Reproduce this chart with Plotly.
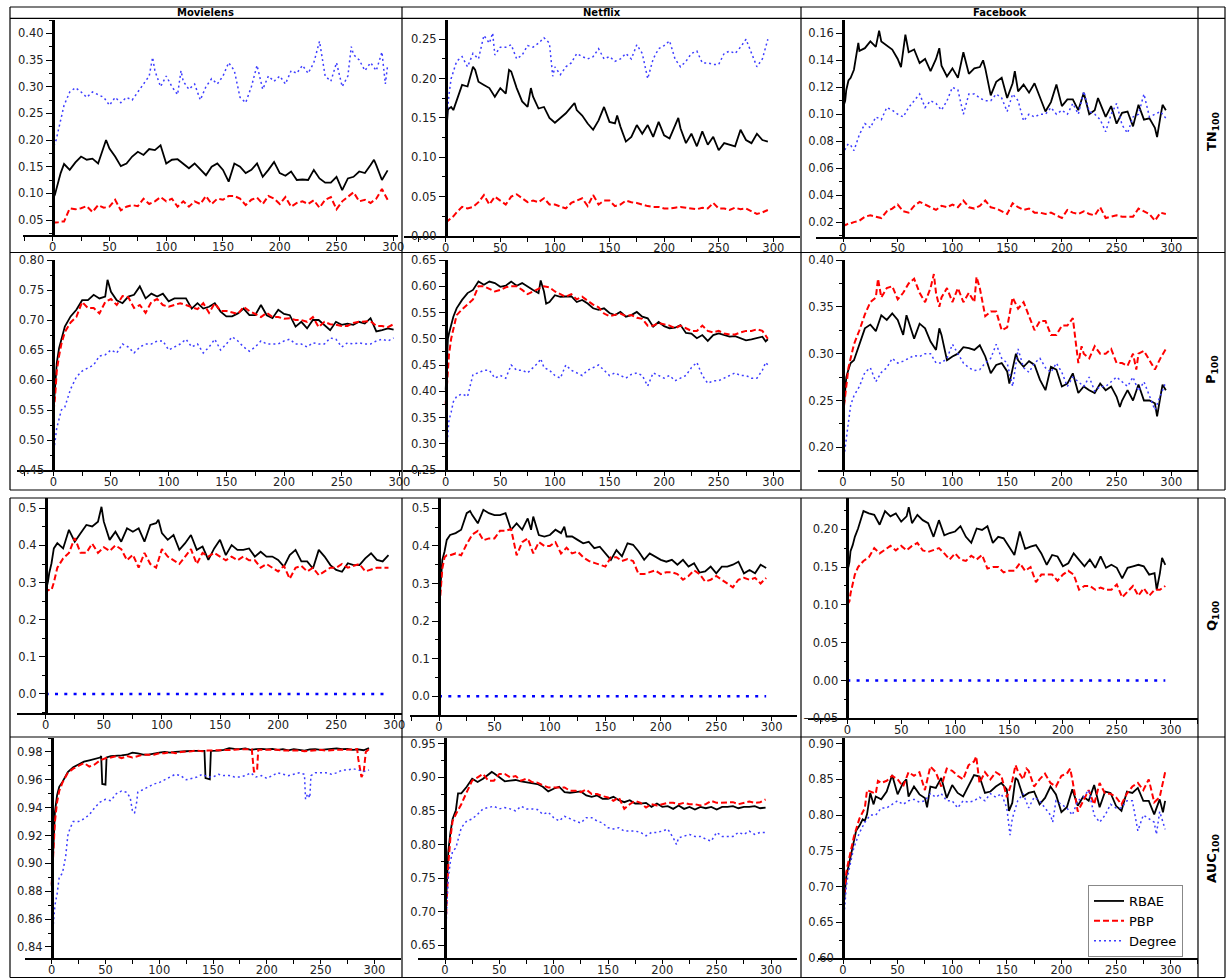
import plotly.graph_objects as go

W, H = 1232, 978

DATASETS = ["Movielens", "Netflix", "Facebook"]
METRICS = ["TN", "P", "Q", "AUC"]
METHODS = ["RBAE", "PBP", "Degree"]

X = [0, 1, 2, 3, 5, 7, 10, 15,
     20, 25, 30, 35, 40, 45, 50, 55, 60, 65,
     70, 75, 80, 85, 90, 95, 100, 105, 110, 115,
     120, 125, 130, 135, 140, 145, 150, 155, 160, 165,
     170, 175, 180, 185, 190, 195, 200, 205, 210, 215,
     220, 225, 230, 235, 240, 245, 250, 255, 260, 265,
     270, 275, 280, 285, 290, 295]

# ---------------- TN100 ----------------
ML_TN_RBAE = [0.088, 0.092, 0.098, 0.106, 0.122, 0.138, 0.155, 0.144,
              0.158, 0.169, 0.163, 0.165, 0.156, 0.188, 0.184, 0.169, 0.151, 0.156,
              0.169, 0.178, 0.172, 0.183, 0.181, 0.190, 0.156, 0.163, 0.164, 0.156,
              0.147, 0.156, 0.144, 0.134, 0.150, 0.156, 0.144, 0.122, 0.156, 0.150,
              0.138, 0.144, 0.156, 0.131, 0.144, 0.159, 0.138, 0.133, 0.141, 0.125,
              0.126, 0.125, 0.144, 0.128, 0.120, 0.120, 0.131, 0.106, 0.128, 0.131,
              0.141, 0.138, 0.153, 0.153, 0.125, 0.143]
ML_TN_RBAE_PX = [47, 283]
ML_TN_RBAE_PY = [0.200, 0.163]
ML_TN_PBP = [0.045, 0.045, 0.045, 0.045, 0.046, 0.047, 0.047, 0.072,
             0.070, 0.072, 0.076, 0.065, 0.078, 0.073, 0.075, 0.088, 0.068, 0.075,
             0.078, 0.076, 0.090, 0.080, 0.085, 0.093, 0.085, 0.090, 0.075, 0.085,
             0.075, 0.085, 0.080, 0.095, 0.080, 0.090, 0.088, 0.095, 0.095, 0.090,
             0.078, 0.088, 0.092, 0.080, 0.095, 0.090, 0.080, 0.093, 0.075, 0.082,
             0.085, 0.080, 0.087, 0.073, 0.088, 0.093, 0.070, 0.085, 0.093, 0.102,
             0.085, 0.088, 0.082, 0.090, 0.108, 0.088]
ML_TN_DEG = [0.180, 0.190, 0.195, 0.200, 0.220, 0.240, 0.265, 0.290,
             0.298, 0.290, 0.280, 0.290, 0.285, 0.280, 0.265, 0.280, 0.270, 0.280,
             0.275, 0.290, 0.305, 0.320, 0.330, 0.300, 0.320, 0.300, 0.285, 0.310,
             0.295, 0.305, 0.275, 0.300, 0.315, 0.305, 0.320, 0.345, 0.330, 0.280,
             0.270, 0.300, 0.340, 0.295, 0.320, 0.310, 0.320, 0.305, 0.330, 0.325,
             0.340, 0.325, 0.345, 0.385, 0.320, 0.310, 0.345, 0.300, 0.320, 0.360,
             0.350, 0.330, 0.345, 0.330, 0.365, 0.340]
ML_TN_DEG_PX = [88, 113, 263, 293]
ML_TN_DEG_PY = [0.355, 0.330, 0.375, 0.305]

NF_TN_RBAE = [0.122, 0.143, 0.160, 0.162, 0.164, 0.160, 0.171, 0.192,
              0.190, 0.215, 0.196, 0.192, 0.188, 0.177, 0.188, 0.181, 0.209, 0.188,
              0.171, 0.164, 0.177, 0.162, 0.164, 0.150, 0.144, 0.150, 0.156, 0.164,
              0.160, 0.153, 0.143, 0.135, 0.147, 0.164, 0.145, 0.143, 0.139, 0.120,
              0.126, 0.141, 0.130, 0.141, 0.126, 0.145, 0.128, 0.124, 0.140, 0.137,
              0.118, 0.130, 0.114, 0.133, 0.116, 0.126, 0.109, 0.118, 0.116, 0.114,
              0.135, 0.122, 0.118, 0.130, 0.122, 0.120]
NF_TN_RBAE_PX = [27, 58, 78, 118, 157, 213]
NF_TN_RBAE_PY = [0.211, 0.211, 0.188, 0.169, 0.153, 0.150]
NF_TN_PBP = [0.017, 0.018, 0.019, 0.020, 0.022, 0.025, 0.030, 0.037,
             0.035, 0.037, 0.043, 0.052, 0.040, 0.050, 0.045, 0.040, 0.050, 0.053,
             0.048, 0.043, 0.045, 0.043, 0.048, 0.040, 0.040, 0.038, 0.035, 0.042,
             0.045, 0.048, 0.038, 0.052, 0.040, 0.045, 0.045, 0.038, 0.040, 0.045,
             0.043, 0.042, 0.040, 0.038, 0.037, 0.037, 0.035, 0.035, 0.036, 0.037,
             0.036, 0.035, 0.034, 0.036, 0.035, 0.042, 0.035, 0.035, 0.033, 0.036,
             0.034, 0.035, 0.032, 0.028, 0.030, 0.033]
NF_TN_DEG = [0.130, 0.150, 0.163, 0.180, 0.200, 0.210, 0.222, 0.228,
             0.215, 0.232, 0.225, 0.255, 0.245, 0.230, 0.240, 0.240, 0.243, 0.225,
             0.230, 0.242, 0.240, 0.245, 0.252, 0.245, 0.215, 0.205, 0.215, 0.220,
             0.232, 0.228, 0.225, 0.228, 0.238, 0.225, 0.228, 0.222, 0.225, 0.232,
             0.225, 0.243, 0.232, 0.200, 0.225, 0.238, 0.242, 0.248, 0.225, 0.215,
             0.222, 0.232, 0.235, 0.220, 0.220, 0.218, 0.218, 0.232, 0.235, 0.232,
             0.240, 0.250, 0.232, 0.215, 0.225, 0.250]
NF_TN_DEG_PX = [43, 98]
NF_TN_DEG_PY = [0.258, 0.203]

FB_TN_RBAE = [0.105, 0.108, 0.110, 0.118, 0.125, 0.127, 0.133, 0.147,
              0.149, 0.154, 0.150, 0.154, 0.151, 0.148, 0.141, 0.147, 0.146, 0.148,
              0.138, 0.141, 0.132, 0.141, 0.136, 0.128, 0.134, 0.127, 0.146, 0.130,
              0.134, 0.135, 0.134, 0.114, 0.124, 0.127, 0.112, 0.123, 0.117, 0.122,
              0.116, 0.123, 0.112, 0.102, 0.109, 0.122, 0.106, 0.111, 0.111, 0.103,
              0.116, 0.100, 0.103, 0.108, 0.098, 0.106, 0.093, 0.101, 0.102, 0.091,
              0.107, 0.096, 0.097, 0.090, 0.098, 0.103]
FB_TN_RBAE_PX = [14, 33, 53, 57, 88, 128, 157, 233, 287, 292]
FB_TN_RBAE_PY = [0.153, 0.162, 0.135, 0.159, 0.149, 0.140, 0.132, 0.112, 0.083, 0.107]
FB_TN_PBP = [0.017, 0.017, 0.018, 0.018, 0.019, 0.019, 0.020, 0.021,
             0.024, 0.025, 0.024, 0.023, 0.028, 0.030, 0.033, 0.028, 0.027, 0.032,
             0.035, 0.033, 0.031, 0.029, 0.032, 0.031, 0.033, 0.031, 0.036, 0.031,
             0.030, 0.032, 0.036, 0.031, 0.030, 0.028, 0.026, 0.034, 0.031, 0.029,
             0.030, 0.027, 0.027, 0.026, 0.027, 0.025, 0.023, 0.029, 0.027, 0.026,
             0.028, 0.026, 0.025, 0.031, 0.023, 0.024, 0.025, 0.024, 0.024, 0.024,
             0.030, 0.028, 0.026, 0.021, 0.027, 0.026]
FB_TN_DEG = [0.070, 0.072, 0.075, 0.076, 0.078, 0.077, 0.073, 0.085,
             0.093, 0.090, 0.098, 0.096, 0.105, 0.103, 0.100, 0.098, 0.105, 0.110,
             0.115, 0.105, 0.110, 0.108, 0.103, 0.110, 0.120, 0.118, 0.100, 0.115,
             0.115, 0.112, 0.110, 0.110, 0.115, 0.112, 0.102, 0.115, 0.110, 0.095,
             0.100, 0.098, 0.100, 0.100, 0.105, 0.100, 0.103, 0.100, 0.108, 0.100,
             0.117, 0.102, 0.100, 0.096, 0.087, 0.100, 0.108, 0.092, 0.086, 0.098,
             0.100, 0.115, 0.098, 0.100, 0.102, 0.097]

# ---------------- P100 ----------------
ML_P_RBAE = [0.545, 0.578, 0.606, 0.628, 0.653, 0.667, 0.689, 0.706,
             0.717, 0.733, 0.733, 0.742, 0.736, 0.739, 0.747, 0.733, 0.728, 0.739,
             0.742, 0.756, 0.736, 0.744, 0.739, 0.744, 0.731, 0.736, 0.736, 0.736,
             0.719, 0.728, 0.719, 0.722, 0.728, 0.714, 0.706, 0.706, 0.711, 0.719,
             0.708, 0.708, 0.725, 0.708, 0.703, 0.717, 0.710, 0.708, 0.689, 0.697,
             0.686, 0.700, 0.700, 0.692, 0.683, 0.697, 0.692, 0.694, 0.692, 0.697,
             0.694, 0.703, 0.681, 0.683, 0.686, 0.684]
ML_P_RBAE_PX = [47]
ML_P_RBAE_PY = [0.767]
ML_P_PBP = [0.548, 0.560, 0.585, 0.615, 0.640, 0.660, 0.680, 0.696,
            0.705, 0.730, 0.720, 0.720, 0.711, 0.730, 0.735, 0.725, 0.740, 0.738,
            0.720, 0.725, 0.712, 0.730, 0.735, 0.725, 0.722, 0.725, 0.728, 0.725,
            0.722, 0.718, 0.728, 0.712, 0.728, 0.715, 0.715, 0.712, 0.710, 0.722,
            0.715, 0.710, 0.705, 0.712, 0.705, 0.705, 0.702, 0.703, 0.700, 0.700,
            0.697, 0.705, 0.688, 0.697, 0.693, 0.692, 0.690, 0.690, 0.695, 0.697,
            0.698, 0.698, 0.690, 0.690, 0.688, 0.693]
ML_P_DEG = [0.475, 0.490, 0.500, 0.520, 0.535, 0.550, 0.555, 0.585,
            0.605, 0.615, 0.620, 0.625, 0.640, 0.642, 0.650, 0.645, 0.660, 0.655,
            0.645, 0.655, 0.660, 0.660, 0.665, 0.665, 0.650, 0.655, 0.660, 0.668,
            0.655, 0.660, 0.645, 0.655, 0.668, 0.650, 0.660, 0.672, 0.665, 0.655,
            0.648, 0.655, 0.665, 0.660, 0.660, 0.660, 0.665, 0.668, 0.660, 0.660,
            0.655, 0.662, 0.660, 0.660, 0.670, 0.668, 0.655, 0.662, 0.660, 0.662,
            0.660, 0.660, 0.665, 0.668, 0.665, 0.670]

NF_P_RBAE = [0.403, 0.460, 0.500, 0.510, 0.529, 0.542, 0.558, 0.574,
             0.587, 0.593, 0.609, 0.603, 0.609, 0.606, 0.599, 0.601, 0.609, 0.601,
             0.606, 0.599, 0.593, 0.587, 0.590, 0.570, 0.583, 0.580, 0.580, 0.581,
             0.570, 0.574, 0.567, 0.558, 0.555, 0.558, 0.549, 0.545, 0.551, 0.542,
             0.545, 0.551, 0.542, 0.539, 0.523, 0.532, 0.524, 0.520, 0.521, 0.526,
             0.511, 0.510, 0.501, 0.507, 0.496, 0.507, 0.510, 0.507, 0.504, 0.505,
             0.501, 0.497, 0.499, 0.501, 0.504, 0.499]
NF_P_RBAE_PX = [87, 92, 293]
NF_P_RBAE_PY = [0.611, 0.567, 0.495]
NF_P_PBP = [0.375, 0.410, 0.440, 0.470, 0.500, 0.520, 0.545, 0.556,
            0.565, 0.575, 0.600, 0.600, 0.595, 0.590, 0.593, 0.598, 0.600, 0.600,
            0.593, 0.585, 0.590, 0.595, 0.600, 0.598, 0.590, 0.585, 0.580, 0.585,
            0.575, 0.580, 0.572, 0.565, 0.560, 0.548, 0.543, 0.545, 0.548, 0.543,
            0.545, 0.540, 0.538, 0.525, 0.525, 0.530, 0.528, 0.525, 0.520, 0.525,
            0.520, 0.515, 0.515, 0.525, 0.515, 0.512, 0.515, 0.510, 0.508, 0.508,
            0.512, 0.515, 0.515, 0.518, 0.515, 0.500]
NF_P_DEG = [0.265, 0.285, 0.320, 0.345, 0.360, 0.380, 0.390, 0.395,
            0.390, 0.432, 0.435, 0.440, 0.440, 0.425, 0.430, 0.425, 0.450, 0.440,
            0.440, 0.435, 0.445, 0.455, 0.445, 0.440, 0.430, 0.425, 0.450, 0.440,
            0.435, 0.430, 0.440, 0.445, 0.450, 0.440, 0.430, 0.435, 0.430, 0.425,
            0.432, 0.435, 0.430, 0.410, 0.435, 0.430, 0.425, 0.430, 0.420, 0.425,
            0.430, 0.445, 0.455, 0.430, 0.415, 0.420, 0.420, 0.425, 0.430, 0.435,
            0.430, 0.430, 0.425, 0.425, 0.440, 0.450]
NF_P_DEG_PX = [87, 293]
NF_P_DEG_PY = [0.462, 0.455]

FB_P_RBAE = [0.233, 0.250, 0.265, 0.275, 0.283, 0.290, 0.293, 0.311,
             0.327, 0.331, 0.324, 0.341, 0.336, 0.343, 0.336, 0.320, 0.334, 0.316,
             0.332, 0.327, 0.313, 0.304, 0.320, 0.293, 0.297, 0.300, 0.307, 0.306,
             0.304, 0.309, 0.297, 0.279, 0.288, 0.290, 0.281, 0.286, 0.293, 0.286,
             0.292, 0.288, 0.272, 0.261, 0.286, 0.283, 0.265, 0.268, 0.279, 0.258,
             0.265, 0.261, 0.258, 0.268, 0.261, 0.265, 0.254, 0.250, 0.261, 0.250,
             0.267, 0.250, 0.250, 0.247, 0.254, 0.261]
FB_P_RBAE_PX = [58, 88, 152, 158, 253, 287, 292]
FB_P_RBAE_PY = [0.341, 0.327, 0.268, 0.300, 0.243, 0.233, 0.267]
FB_P_PBP = [0.235, 0.245, 0.255, 0.270, 0.285, 0.295, 0.310, 0.325,
            0.342, 0.355, 0.360, 0.360, 0.370, 0.372, 0.358, 0.365, 0.375, 0.380,
            0.365, 0.355, 0.370, 0.365, 0.360, 0.370, 0.355, 0.370, 0.355, 0.365,
            0.355, 0.370, 0.340, 0.345, 0.345, 0.325, 0.328, 0.360, 0.348, 0.355,
            0.340, 0.325, 0.335, 0.335, 0.320, 0.320, 0.330, 0.330, 0.338, 0.290,
            0.300, 0.295, 0.308, 0.300, 0.300, 0.305, 0.290, 0.290, 0.287, 0.300,
            0.300, 0.303, 0.293, 0.283, 0.295, 0.305]
FB_P_PBP_PX = [32, 83, 88, 122, 218, 268]
FB_P_PBP_PY = [0.380, 0.385, 0.350, 0.382, 0.308, 0.283]
FB_P_DEG = [0.185, 0.190, 0.200, 0.210, 0.230, 0.245, 0.255, 0.265,
            0.280, 0.285, 0.270, 0.280, 0.285, 0.295, 0.290, 0.292, 0.295, 0.298,
            0.297, 0.300, 0.300, 0.290, 0.290, 0.295, 0.310, 0.300, 0.290, 0.285,
            0.282, 0.283, 0.290, 0.295, 0.310, 0.295, 0.290, 0.265, 0.305, 0.285,
            0.280, 0.290, 0.295, 0.285, 0.280, 0.290, 0.280, 0.265, 0.275, 0.270,
            0.265, 0.275, 0.260, 0.265, 0.265, 0.270, 0.275, 0.270, 0.265, 0.275,
            0.260, 0.270, 0.255, 0.240, 0.255, 0.270]

# ---------------- Q100 ----------------
ML_Q_RBAE = [0.285, 0.290, 0.303, 0.325, 0.352, 0.392, 0.406, 0.392,
             0.442, 0.410, 0.433, 0.455, 0.451, 0.464, 0.464, 0.415, 0.437, 0.410,
             0.446, 0.437, 0.446, 0.410, 0.455, 0.460, 0.433, 0.415, 0.428, 0.388,
             0.406, 0.428, 0.388, 0.397, 0.361, 0.392, 0.415, 0.374, 0.401, 0.388,
             0.388, 0.392, 0.370, 0.383, 0.370, 0.370, 0.361, 0.343, 0.374, 0.388,
             0.357, 0.357, 0.338, 0.388, 0.370, 0.347, 0.334, 0.329, 0.352, 0.347,
             0.347, 0.365, 0.379, 0.361, 0.357, 0.374]
ML_Q_RBAE_PX = [48, 97]
ML_Q_RBAE_PY = [0.504, 0.469]
ML_Q_PBP = [0.270, 0.275, 0.280, 0.280, 0.280, 0.300, 0.340, 0.365,
            0.380, 0.420, 0.380, 0.380, 0.405, 0.380, 0.395, 0.385, 0.400, 0.390,
            0.360, 0.375, 0.340, 0.380, 0.350, 0.340, 0.390, 0.370, 0.360, 0.350,
            0.370, 0.390, 0.350, 0.380, 0.370, 0.380, 0.370, 0.360, 0.370, 0.360,
            0.370, 0.360, 0.360, 0.340, 0.350, 0.340, 0.330, 0.345, 0.310, 0.340,
            0.345, 0.330, 0.340, 0.320, 0.330, 0.340, 0.340, 0.350, 0.340, 0.345,
            0.350, 0.330, 0.335, 0.340, 0.340, 0.340]

NF_Q_RBAE = [0.237, 0.290, 0.335, 0.363, 0.385, 0.416, 0.429, 0.434,
             0.443, 0.487, 0.482, 0.460, 0.496, 0.487, 0.482, 0.482, 0.487, 0.443,
             0.460, 0.443, 0.473, 0.478, 0.429, 0.425, 0.429, 0.443, 0.434, 0.425,
             0.425, 0.416, 0.407, 0.411, 0.394, 0.398, 0.380, 0.363, 0.389, 0.372,
             0.407, 0.403, 0.385, 0.363, 0.380, 0.372, 0.363, 0.358, 0.363, 0.350,
             0.363, 0.345, 0.354, 0.329, 0.332, 0.345, 0.327, 0.345, 0.345, 0.350,
             0.358, 0.327, 0.336, 0.327, 0.350, 0.341]
NF_Q_RBAE_PX = [28, 83, 113]
NF_Q_RBAE_PY = [0.493, 0.443, 0.451]
NF_Q_PBP = [0.220, 0.270, 0.310, 0.340, 0.370, 0.375, 0.375, 0.380,
            0.375, 0.405, 0.430, 0.440, 0.415, 0.420, 0.420, 0.440, 0.440, 0.445,
            0.375, 0.410, 0.420, 0.380, 0.410, 0.400, 0.400, 0.410, 0.380, 0.395,
            0.380, 0.385, 0.370, 0.360, 0.355, 0.350, 0.345, 0.370, 0.370, 0.360,
            0.365, 0.360, 0.325, 0.325, 0.330, 0.335, 0.325, 0.330, 0.330, 0.325,
            0.310, 0.320, 0.335, 0.325, 0.305, 0.310, 0.320, 0.310, 0.300, 0.290,
            0.310, 0.315, 0.310, 0.315, 0.300, 0.315]

FB_Q_RBAE = [0.146, 0.150, 0.157, 0.171, 0.179, 0.190, 0.201, 0.224,
             0.221, 0.219, 0.206, 0.224, 0.217, 0.221, 0.210, 0.217, 0.208, 0.219,
             0.212, 0.208, 0.190, 0.212, 0.192, 0.195, 0.197, 0.204, 0.190, 0.182,
             0.201, 0.199, 0.204, 0.182, 0.190, 0.188, 0.177, 0.166, 0.197, 0.174,
             0.177, 0.179, 0.168, 0.153, 0.166, 0.164, 0.151, 0.155, 0.168, 0.160,
             0.151, 0.160, 0.149, 0.164, 0.149, 0.153, 0.149, 0.135, 0.149, 0.151,
             0.153, 0.151, 0.140, 0.142, 0.142, 0.153]
FB_Q_RBAE_PX = [57, 287, 292]
FB_Q_RBAE_PY = [0.229, 0.120, 0.162]
FB_Q_PBP = [0.100, 0.102, 0.105, 0.115, 0.130, 0.140, 0.150, 0.158,
            0.163, 0.175, 0.168, 0.173, 0.178, 0.172, 0.178, 0.172, 0.178, 0.182,
            0.172, 0.170, 0.172, 0.175, 0.168, 0.160, 0.168, 0.160, 0.158, 0.165,
            0.160, 0.166, 0.148, 0.150, 0.150, 0.143, 0.145, 0.145, 0.155, 0.145,
            0.150, 0.130, 0.140, 0.140, 0.140, 0.132, 0.140, 0.145, 0.140, 0.120,
            0.125, 0.125, 0.120, 0.123, 0.120, 0.120, 0.127, 0.110, 0.118, 0.125,
            0.112, 0.122, 0.112, 0.120, 0.120, 0.125]

Q_DEG = [0.0, 0.0, 0.0, 0.0, 0.0, 0.0, 0.0, 0.0,
         0.0, 0.0, 0.0, 0.0, 0.0, 0.0, 0.0, 0.0, 0.0, 0.0,
         0.0, 0.0, 0.0, 0.0, 0.0, 0.0, 0.0, 0.0, 0.0, 0.0,
         0.0, 0.0, 0.0, 0.0, 0.0, 0.0, 0.0, 0.0, 0.0, 0.0,
         0.0, 0.0, 0.0, 0.0, 0.0, 0.0, 0.0, 0.0, 0.0, 0.0,
         0.0, 0.0, 0.0, 0.0, 0.0, 0.0, 0.0, 0.0, 0.0, 0.0,
         0.0, 0.0, 0.0, 0.0, 0.0, 0.0]

# ---------------- AUC100 ----------------
ML_AUC_RBAE = [0.884, 0.903, 0.922, 0.937, 0.949, 0.955, 0.9585, 0.9656,
               0.969, 0.971, 0.973, 0.974, 0.975, 0.976, 0.9565, 0.977, 0.977, 0.9775,
               0.978, 0.9795, 0.979, 0.978, 0.978, 0.979, 0.9795, 0.980, 0.9795, 0.980,
               0.9805, 0.9805, 0.9807, 0.9807, 0.9807, 0.961, 0.9807, 0.981, 0.9815, 0.9827,
               0.9822, 0.982, 0.9825, 0.9815, 0.982, 0.9822, 0.9818, 0.9822, 0.9815, 0.982,
               0.9812, 0.982, 0.9815, 0.981, 0.9818, 0.982, 0.9815, 0.982, 0.982, 0.9825,
               0.982, 0.9822, 0.9815, 0.9818, 0.9812, 0.9828]
ML_AUC_RBAE_PX = [46, 47, 51, 142, 143, 147, 148]
ML_AUC_RBAE_PY = [0.977, 0.957, 0.976, 0.9807, 0.9613, 0.9604, 0.9807]
ML_AUC_PBP = [0.885, 0.900, 0.915, 0.930, 0.944, 0.952, 0.958, 0.965,
              0.968, 0.970, 0.972, 0.9695, 0.971, 0.974, 0.9755, 0.976, 0.977, 0.9755,
              0.977, 0.976, 0.977, 0.978, 0.978, 0.978, 0.979, 0.979, 0.980, 0.979,
              0.980, 0.980, 0.9805, 0.981, 0.9805, 0.981, 0.981, 0.981, 0.981, 0.9815,
              0.9815, 0.982, 0.982, 0.982, 0.966, 0.9815, 0.9815, 0.982, 0.9815, 0.981,
              0.981, 0.9815, 0.981, 0.9805, 0.981, 0.9815, 0.9815, 0.981, 0.9815, 0.9815,
              0.9815, 0.9815, 0.9815, 0.975, 0.965, 0.982]
ML_AUC_PBP_PX = [186, 188, 191, 192, 284, 286, 288, 292]
ML_AUC_PBP_PY = [0.982, 0.966, 0.967, 0.9815, 0.982, 0.970, 0.962, 0.980]
ML_AUC_DEG = [0.842, 0.850, 0.860, 0.870, 0.878, 0.890, 0.893, 0.920,
              0.930, 0.930, 0.932, 0.935, 0.940, 0.944, 0.946, 0.945, 0.950, 0.952,
              0.951, 0.938, 0.951, 0.953, 0.955, 0.957, 0.958, 0.960, 0.962, 0.964,
              0.963, 0.960, 0.961, 0.962, 0.964, 0.962, 0.962, 0.964, 0.963, 0.963,
              0.962, 0.962, 0.963, 0.965, 0.962, 0.963, 0.961, 0.963, 0.965, 0.964,
              0.963, 0.964, 0.965, 0.964, 0.947, 0.965, 0.965, 0.965, 0.964, 0.965,
              0.967, 0.967, 0.968, 0.967, 0.966, 0.967]
ML_AUC_DEG_PX = [13, 17, 73, 77, 79, 236, 238, 241]
ML_AUC_DEG_PY = [0.905, 0.925, 0.947, 0.936, 0.944, 0.946, 0.950, 0.963]

NF_AUC_RBAE = [0.680, 0.720, 0.760, 0.789, 0.818, 0.838, 0.851, 0.876,
               0.886, 0.898, 0.893, 0.898, 0.905, 0.906, 0.900, 0.894, 0.895, 0.896,
               0.894, 0.893, 0.892, 0.890, 0.886, 0.879, 0.883, 0.886, 0.878, 0.877,
               0.878, 0.879, 0.873, 0.871, 0.873, 0.868, 0.868, 0.871, 0.866, 0.863,
               0.866, 0.861, 0.861, 0.862, 0.856, 0.861, 0.856, 0.857, 0.853, 0.858,
               0.853, 0.856, 0.852, 0.856, 0.854, 0.856, 0.852, 0.856, 0.856, 0.857,
               0.854, 0.856, 0.856, 0.857, 0.854, 0.855]
NF_AUC_RBAE_PX = [12, 43]
NF_AUC_RBAE_PY = [0.876, 0.908]
NF_AUC_PBP = [0.655, 0.690, 0.730, 0.770, 0.810, 0.835, 0.845, 0.860,
              0.878, 0.895, 0.900, 0.905, 0.895, 0.895, 0.905, 0.905, 0.900, 0.902,
              0.895, 0.898, 0.893, 0.892, 0.888, 0.885, 0.885, 0.885, 0.885, 0.880,
              0.880, 0.878, 0.882, 0.875, 0.875, 0.872, 0.870, 0.865, 0.870, 0.853,
              0.860, 0.865, 0.862, 0.855, 0.860, 0.858, 0.860, 0.862, 0.862, 0.860,
              0.862, 0.860, 0.860, 0.858, 0.860, 0.865, 0.862, 0.862, 0.862, 0.863,
              0.860, 0.862, 0.864, 0.862, 0.863, 0.867]
NF_AUC_DEG = [0.660, 0.680, 0.720, 0.750, 0.775, 0.790, 0.795, 0.825,
              0.835, 0.838, 0.845, 0.853, 0.855, 0.857, 0.853, 0.855, 0.853, 0.850,
              0.857, 0.853, 0.853, 0.852, 0.845, 0.848, 0.840, 0.835, 0.842, 0.838,
              0.835, 0.832, 0.840, 0.840, 0.835, 0.832, 0.825, 0.823, 0.825, 0.820,
              0.820, 0.820, 0.818, 0.813, 0.818, 0.818, 0.820, 0.823, 0.810, 0.810,
              0.812, 0.815, 0.812, 0.812, 0.808, 0.805, 0.818, 0.812, 0.812, 0.812,
              0.818, 0.815, 0.820, 0.815, 0.818, 0.818]
NF_AUC_DEG_PX = [213]
NF_AUC_DEG_PY = [0.800]

FB_AUC_RBAE = [0.663, 0.677, 0.700, 0.714, 0.728, 0.741, 0.762, 0.785,
               0.792, 0.831, 0.826, 0.822, 0.833, 0.856, 0.829, 0.845, 0.826, 0.840,
               0.829, 0.824, 0.840, 0.838, 0.852, 0.824, 0.842, 0.831, 0.826, 0.840,
               0.856, 0.854, 0.831, 0.833, 0.840, 0.845, 0.836, 0.817, 0.849, 0.826,
               0.831, 0.833, 0.815, 0.824, 0.840, 0.829, 0.804, 0.811, 0.836, 0.813,
               0.826, 0.820, 0.842, 0.811, 0.833, 0.831, 0.813, 0.806, 0.833, 0.831,
               0.838, 0.820, 0.820, 0.801, 0.822, 0.820]
FB_AUC_RBAE_PX = [12, 18, 22, 28, 58, 77, 152, 158, 293]
FB_AUC_RBAE_PY = [0.778, 0.794, 0.801, 0.815, 0.850, 0.811, 0.806, 0.852, 0.804]
FB_AUC_PBP = [0.665, 0.685, 0.705, 0.720, 0.735, 0.750, 0.770, 0.795,
              0.810, 0.833, 0.830, 0.845, 0.848, 0.855, 0.850, 0.840, 0.860, 0.855,
              0.860, 0.835, 0.868, 0.860, 0.840, 0.865, 0.862, 0.855, 0.850, 0.870,
              0.875, 0.845, 0.860, 0.850, 0.860, 0.855, 0.825, 0.848, 0.862, 0.850,
              0.862, 0.840, 0.850, 0.858, 0.845, 0.840, 0.855, 0.858, 0.850, 0.805,
              0.820, 0.835, 0.815, 0.845, 0.830, 0.830, 0.825, 0.815, 0.830, 0.840,
              0.845, 0.835, 0.850, 0.818, 0.825, 0.860]
FB_AUC_PBP_PX = [22, 32, 122, 158, 168, 208]
FB_AUC_PBP_PY = [0.835, 0.848, 0.882, 0.870, 0.865, 0.865]
FB_AUC_DEG = [0.640, 0.660, 0.680, 0.700, 0.720, 0.735, 0.755, 0.775,
              0.790, 0.800, 0.800, 0.810, 0.810, 0.815, 0.820, 0.815, 0.820, 0.822,
              0.818, 0.820, 0.830, 0.825, 0.830, 0.820, 0.820, 0.810, 0.820, 0.818,
              0.820, 0.825, 0.820, 0.830, 0.825, 0.830, 0.810, 0.795, 0.820, 0.830,
              0.810, 0.825, 0.820, 0.810, 0.800, 0.820, 0.815, 0.810, 0.800, 0.820,
              0.825, 0.835, 0.800, 0.790, 0.800, 0.815, 0.810, 0.810, 0.820, 0.820,
              0.778, 0.800, 0.795, 0.790, 0.805, 0.780]
FB_AUC_DEG_PX = [153, 192, 287]
FB_AUC_DEG_PY = [0.772, 0.790, 0.773]

NONE = []

# panel contents: (row, col) -> list of (method, base values, extra x, extra y)
PANELS = {
    (0, 0): [("RBAE", ML_TN_RBAE, ML_TN_RBAE_PX, ML_TN_RBAE_PY), ("PBP", ML_TN_PBP, NONE, NONE), ("Degree", ML_TN_DEG, ML_TN_DEG_PX, ML_TN_DEG_PY)],
    (0, 1): [("RBAE", NF_TN_RBAE, NF_TN_RBAE_PX, NF_TN_RBAE_PY), ("PBP", NF_TN_PBP, NONE, NONE), ("Degree", NF_TN_DEG, NF_TN_DEG_PX, NF_TN_DEG_PY)],
    (0, 2): [("RBAE", FB_TN_RBAE, FB_TN_RBAE_PX, FB_TN_RBAE_PY), ("PBP", FB_TN_PBP, NONE, NONE), ("Degree", FB_TN_DEG, NONE, NONE)],
    (1, 0): [("RBAE", ML_P_RBAE, ML_P_RBAE_PX, ML_P_RBAE_PY), ("PBP", ML_P_PBP, NONE, NONE), ("Degree", ML_P_DEG, NONE, NONE)],
    (1, 1): [("RBAE", NF_P_RBAE, NF_P_RBAE_PX, NF_P_RBAE_PY), ("PBP", NF_P_PBP, NONE, NONE), ("Degree", NF_P_DEG, NF_P_DEG_PX, NF_P_DEG_PY)],
    (1, 2): [("RBAE", FB_P_RBAE, FB_P_RBAE_PX, FB_P_RBAE_PY), ("PBP", FB_P_PBP, FB_P_PBP_PX, FB_P_PBP_PY), ("Degree", FB_P_DEG, NONE, NONE)],
    (2, 0): [("RBAE", ML_Q_RBAE, ML_Q_RBAE_PX, ML_Q_RBAE_PY), ("PBP", ML_Q_PBP, NONE, NONE), ("Degree", Q_DEG, NONE, NONE)],
    (2, 1): [("RBAE", NF_Q_RBAE, NF_Q_RBAE_PX, NF_Q_RBAE_PY), ("PBP", NF_Q_PBP, NONE, NONE), ("Degree", Q_DEG, NONE, NONE)],
    (2, 2): [("RBAE", FB_Q_RBAE, FB_Q_RBAE_PX, FB_Q_RBAE_PY), ("PBP", FB_Q_PBP, NONE, NONE), ("Degree", Q_DEG, NONE, NONE)],
    (3, 0): [("RBAE", ML_AUC_RBAE, ML_AUC_RBAE_PX, ML_AUC_RBAE_PY), ("PBP", ML_AUC_PBP, ML_AUC_PBP_PX, ML_AUC_PBP_PY), ("Degree", ML_AUC_DEG, ML_AUC_DEG_PX, ML_AUC_DEG_PY)],
    (3, 1): [("RBAE", NF_AUC_RBAE, NF_AUC_RBAE_PX, NF_AUC_RBAE_PY), ("PBP", NF_AUC_PBP, NONE, NONE), ("Degree", NF_AUC_DEG, NF_AUC_DEG_PX, NF_AUC_DEG_PY)],
    (3, 2): [("RBAE", FB_AUC_RBAE, FB_AUC_RBAE_PX, FB_AUC_RBAE_PY), ("PBP", FB_AUC_PBP, FB_AUC_PBP_PX, FB_AUC_PBP_PY), ("Degree", FB_AUC_DEG, FB_AUC_DEG_PX, FB_AUC_DEG_PY)],
}

# ---------------- layout geometry (pixels) ----------------
GEOM = {
    (0, 0): dict(x0=52.7, ppu=1.1353, xl=23, xr=398, yt=20, yb=235, yr=(0.0219, 0.425), dt=0.05, mdt=0.025, fmt=".2f"),
    (0, 1): dict(x0=445.7, ppu=1.092, xl=404, xr=800, yt=20, yb=236, yr=(0.0, 0.2745), dt=0.05, mdt=0.025, fmt=".2f"),
    (0, 2): dict(x0=843, ppu=1.0944, xl=816, xr=1197, yt=20, yb=236.5, yr=(0.0093, 0.1699), dt=0.02, mdt=0.01, fmt=".2f"),
    (1, 0): dict(x0=53.3, ppu=1.1536, xl=17, xr=402, yt=260, yb=470, yr=(0.45, 0.80), dt=0.05, mdt=0.025, fmt=".2f"),
    (1, 1): dict(x0=445.7, ppu=1.092, xl=403, xr=800, yt=260, yb=470, yr=(0.25, 0.65), dt=0.05, mdt=0.025, fmt=".2f"),
    (1, 2): dict(x0=843, ppu=1.0944, xl=818, xr=1198, yt=260, yb=470, yr=(0.1758, 0.40), dt=0.05, mdt=0.025, fmt=".2f"),
    (2, 0): dict(x0=45.7, ppu=1.162, xl=17, xr=402, yt=498, yb=713.3, yr=(-0.052, 0.5277), dt=0.1, mdt=0.05, fmt=".1f"),
    (2, 1): dict(x0=439, ppu=1.109, xl=410, xr=797, yt=498, yb=715, yr=(-0.0497, 0.5274), dt=0.1, mdt=0.05, fmt=".1f"),
    (2, 2): dict(x0=847.3, ppu=1.078, xl=808, xr=1198, yt=498, yb=718.3, yr=(-0.05, 0.2413), dt=0.05, mdt=0.025, fmt=".2f"),
    (3, 0): dict(x0=51.7, ppu=1.0756, xl=25, xr=401, yt=738, yb=958, yr=(0.8321, 0.99), dt=0.02, mdt=0.01, fmt=".2f"),
    (3, 1): dict(x0=445, ppu=1.0867, xl=418, xr=797, yt=738, yb=958, yr=(0.6311, 0.9585), dt=0.05, mdt=0.025, fmt=".2f"),
    (3, 2): dict(x0=843, ppu=1.092, xl=818, xr=1198, yt=738, yb=958, yr=(0.60, 0.9079), dt=0.05, mdt=0.025, fmt=".2f"),
}

STYLE = {
    "RBAE": dict(color="black", width=1.8, dash="solid"),
    "PBP": dict(color="#ff0000", width=2.0, dash="6px,3px"),
    "Degree": dict(color="#3d3dff", width=1.5, dash="2px,3px"),
}
STYLE_ZERO = dict(color="#0000ff", width=2.5, dash="3px,6.3px")

TICKFONT = dict(family="DejaVu Sans", size=11.5, color="#222222")


def merged(base, px, py):
    assert len(base) == len(X), len(base)
    assert len(px) == len(py)
    pts = sorted(list(zip(X, base)) + list(zip(px, py)))
    return [p[0] for p in pts], [p[1] for p in pts]


fig = go.Figure()
layout = {}
for i, key in enumerate(sorted(GEOM.keys())):
    g = GEOM[key]
    n = i + 1
    xa, ya = ("x", "y") if n == 1 else (f"x{n}", f"y{n}")
    xname, yname = ("xaxis", "yaxis") if n == 1 else (f"xaxis{n}", f"yaxis{n}")
    xlo = (g["xl"] - g["x0"]) / g["ppu"]
    xhi = (g["xr"] - g["x0"]) / g["ppu"]
    layout[xname] = dict(
        domain=[g["xl"] / W, g["xr"] / W], range=[xlo, xhi], anchor=ya,
        showline=True, linecolor="black", linewidth=1.5, showgrid=False, zeroline=False,
        ticks="outside", ticklen=4, tickwidth=1, tickcolor="black", dtick=50, tick0=0,
        minor=dict(dtick=25, tick0=0, ticks="outside", ticklen=4, tickcolor="black", showgrid=False),
        tickfont=TICKFONT, automargin=False, fixedrange=True, ticklabelstandoff=-4,
    )
    layout[yname] = dict(
        domain=[1 - g["yb"] / H, 1 - g["yt"] / H], range=list(g["yr"]), anchor="free",
        position=g["x0"] / W, side="left",
        showline=True, linecolor="black", linewidth=2.5, showgrid=False, zeroline=False,
        ticks="outside", ticklen=6, tickwidth=1, tickcolor="black", dtick=g["dt"], tick0=0,
        tickformat=g["fmt"],
        minor=dict(dtick=g["mdt"], tick0=0, ticks="outside", ticklen=3, tickcolor="black", showgrid=False),
        tickfont=TICKFONT, automargin=False, fixedrange=True,
    )
    for method, base, px, py in PANELS[key]:
        xs, ys = merged(base, px, py)
        st = STYLE_ZERO if (key[0] == 2 and method == "Degree") else STYLE[method]
        fig.add_trace(go.Scatter(
            x=xs, y=ys, mode="lines", name=method, xaxis=xa, yaxis=ya,
            line=dict(color=st["color"], width=st["width"], dash=st["dash"]),
            showlegend=(key == (3, 2)), legendgroup=method, hoverinfo="skip",
        ))

# cell borders
shapes = []
def hline(y, x0=10, x1=1225):
    shapes.append(dict(type="line", xref="paper", yref="paper", x0=x0 / W, x1=x1 / W,
                       y0=1 - y / H, y1=1 - y / H, line=dict(color="black", width=1.2)))
def vline(x, y0, y1):
    shapes.append(dict(type="line", xref="paper", yref="paper", x0=x / W, x1=x / W,
                       y0=1 - y0 / H, y1=1 - y1 / H, line=dict(color="black", width=1.2)))

for y in (7, 18.3, 252.5, 490):
    hline(y)
for y in (498, 737, 977.5):
    hline(y)
for x in (10, 402, 801, 1198, 1225):
    vline(x, 7, 490)
    vline(x, 498, 977.5)

annotations = []
for name, cx in zip(DATASETS, (206, 602, 1000)):
    annotations.append(dict(text=f"<b>{name}</b>", x=cx / W, y=1 - 12.7 / H, xref="paper", yref="paper",
                            showarrow=False, xanchor="center", yanchor="middle",
                            font=dict(family="DejaVu Sans", size=10, color="black")))
for metric, cy in zip(METRICS, (132, 370, 616, 859)):
    annotations.append(dict(text=f"<b>{metric}<sub>100</sub></b>", x=1212 / W, y=1 - cy / H,
                            xref="paper", yref="paper", showarrow=False, textangle=-90,
                            xanchor="center", yanchor="middle",
                            font=dict(family="DejaVu Sans", size=13, color="black")))

fig.update_layout(
    width=W, height=H, margin=dict(l=0, r=0, t=0, b=0),
    paper_bgcolor="white", plot_bgcolor="rgba(0,0,0,0)",
    shapes=shapes, annotations=annotations,
    legend=dict(x=1088 / W, y=1 - 957 / H, xanchor="left", yanchor="bottom",
                bgcolor="white", bordercolor="#888888", borderwidth=1,
                font=dict(family="DejaVu Sans", size=13, color="black"),
                tracegroupgap=0, itemwidth=30, traceorder="normal"),
    **layout,
)

fig.write_html("out.html")
